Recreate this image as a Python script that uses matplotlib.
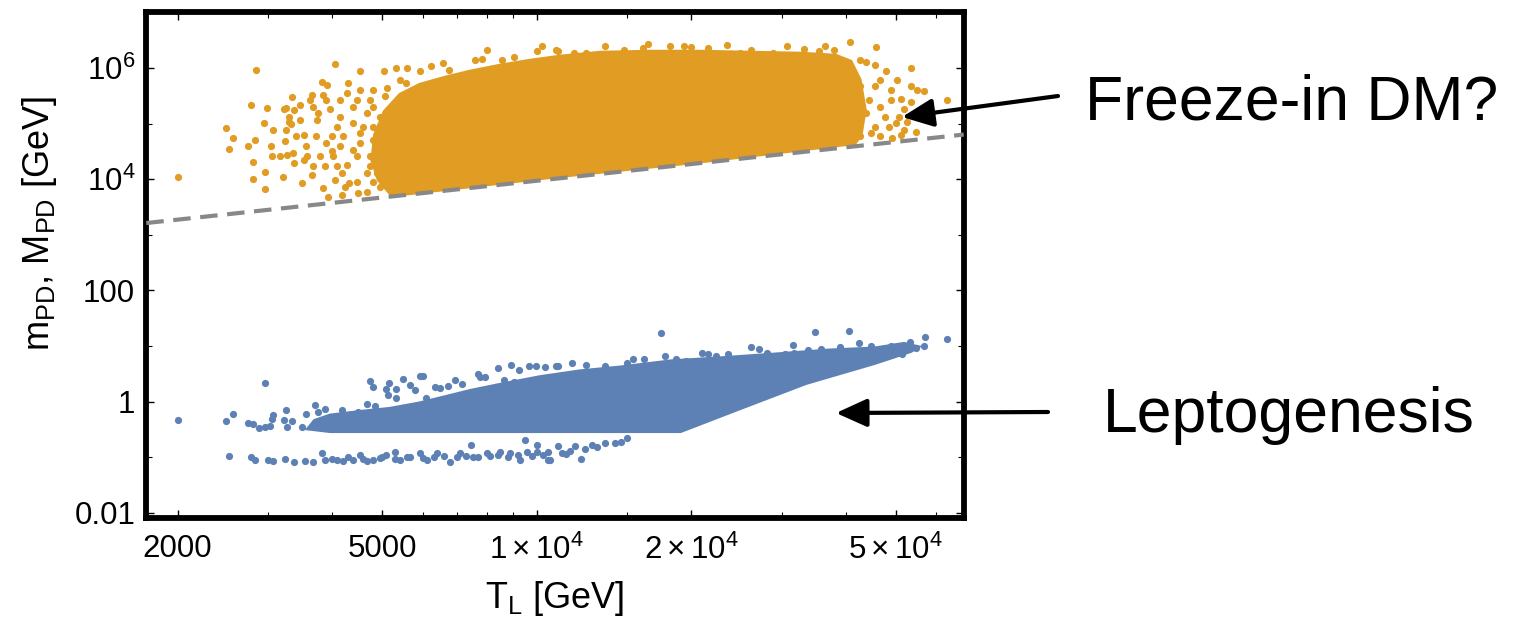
import matplotlib
matplotlib.use("Agg")
import matplotlib.pyplot as plt
from matplotlib.ticker import FixedLocator, FixedFormatter, NullFormatter

plt.rcParams['font.family'] = ['Liberation Sans', 'DejaVu Sans']
plt.rcParams['mathtext.fontset'] = 'custom'
plt.rcParams['mathtext.rm'] = 'Liberation Sans'
plt.rcParams['mathtext.it'] = 'Liberation Sans:italic'

# ---------------- data ----------------
# Freeze-in DM region (orange): dense core outline + scattered points
orange_poly_T = [5230, 4930, 4790, 4850, 5060, 5423, 5932, 6640, 7423, 8493, 9717, 11120,
                 13300, 16650, 20840, 26080, 32630, 38200, 40840, 42500, 43500, 42700, 41600,
                 20800, 10600]
orange_poly_m = [5.2e3, 9.8e3, 2.2e4, 6.3e4, 1.63e5, 3.3e5, 5.0e5, 6.7e5, 8.6e5, 1.1e6, 1.35e6, 1.6e6,
                 1.88e6, 1.96e6, 1.96e6, 1.88e6, 1.81e6, 1.66e6, 1.3e6, 6.2e5, 1.8e5, 6.3e4, 4.5e4,
                 2.1e4, 1.1e4]

orange_T = [2000, 2840, 4050, 4530, 2485, 2560, 2520, 2746, 2783, 2982,
            2947, 2830, 3036, 3063, 2809, 2805, 2960, 2954, 3207, 3250,
            3345, 3365, 3290, 3325, 3250, 3230, 3265, 3355, 3375, 3462,
            3500, 3525, 3555, 3525, 3621, 3650, 3675, 3730, 3720, 3815,
            3835, 3900, 3650, 3835, 3930, 4050, 4175, 3875, 4020, 4143,
            4000, 4085, 3961, 4143, 4300, 4270, 4395, 4520, 4532, 4465,
            4320, 4465, 4670, 4670, 4740, 4810, 5050, 5335, 5600, 5120,
            5235, 4957, 4810, 4740, 4885, 4957, 5235, 5423, 5932, 6225,
            6575, 6760, 7570, 7820, 8010, 8570, 9030, 10000, 10240, 10980,
            5060, 5020, 5185, 5570, 5740, 5570, 5335, 5740,
            3215, 3290, 3400, 3570, 3675, 3788, 3895, 3990, 4080, 4175,
            4270, 4395, 4532, 4600, 4670, 4810, 4740, 4810, 4495, 4235,
            4143, 3895, 3760, 3462, 3165, 3050, 4200, 4395, 4465, 4810,
            4957,
            10930, 11800, 12500, 13600, 14800, 16100, 16500, 18200, 19400, 20000,
            21600, 23500, 24900, 26100, 28900, 30700, 33100, 35500, 36400, 37900,
            40800, 45800,
            42700, 43700, 45500, 53500, 47900, 46700, 50400, 53500, 55000, 56700,
            63000, 48900, 51100, 53500, 51900, 50700, 50000, 52700, 48500, 51900,
            54700, 51100, 49200, 46700, 44700, 45500, 47600, 46700, 48900, 44300,
            42700, 45500, 43700, 42700, 41400]
orange_m = [1.1e4, 9.3e5, 1.18e6, 8.9e5, 8.2e4, 5.5e4, 3.5e4, 3.9e4, 2.2e5, 1.95e5,
            1.02e5, 5.1e4, 3.9e4, 7.7e4, 2.03e4, 1.02e4, 1.36e4, 6.8e3, 1.1e4, 1.9e5,
            3.0e5, 1.77e5, 1.34e5, 9.9e4, 7.7e4, 4.9e4, 2.75e4, 2.95e4, 1.95e4, 2.2e5,
            8.7e3, 6.3e4, 3.9e4, 2.2e4, 2.7e5, 3.3e5, 2.0e5, 1.17e5, 5.9e4, 5.7e5,
            3.3e5, 5.0e5, 1.2e4, 6.9e3, 4.9e3, 9.8e3, 5.2e3, 1.7e4, 2.6e4, 3.9e4,
            5.9e4, 8.9e4, 1.8e5, 2.7e5, 5.4e5, 3.5e5, 2.0e5, 4.1e5, 6.8e4, 2.6e4,
            8.5e3, 9.1e3, 1.29e4, 6.0e3, 2.7e5, 4.1e5, 8.7e5, 1.0e6, 1.0e6, 4.4e5,
            2.0e5, 1.34e5, 5.1e4, 2.6e4, 1.29e4, 7.4e3, 6.5e3, 6.2e5, 8.7e5, 1.07e6,
            1.26e6, 9.1e5, 1.4e6, 1.45e6, 2.1e6, 1.4e6, 1.6e6, 2.07e6, 2.45e6, 2.07e6,
            3.1e5, 6.8e4, 2.2e4, 5.4e5, 3.1e5, 1.29e4, 3.9e4, 7.4e3,
            1.8e5, 1.09e5, 5.9e4, 2.6e4, 1.7e4, 2.6e4, 4.5e4, 3.2e4, 1.7e4, 1.29e4,
            1.8e4, 3.4e4, 4.5e4, 8.9e4, 1.55e5, 2.0e5, 1.7e4, 9.1e3, 5.6e3, 7.4e3,
            1.34e5, 2.7e5, 1.55e5, 1.17e5, 2.6e4, 2.6e4, 5.9e4, 1.02e5, 2.7e5, 8.9e4,
            3.2e4,
            2.1e6, 1.9e6, 1.86e6, 2.45e6, 2.1e6, 2.3e6, 2.7e6, 2.45e6, 2.5e6, 2.4e6,
            2.3e6, 2.6e6, 1.86e6, 2.1e6, 1.86e6, 2.45e6, 2.2e6, 2.0e6, 2.45e6, 2.1e6,
            2.9e6, 2.35e6,
            1.4e6, 1.31e6, 1.15e6, 1.0e6, 8.7e5, 6.2e5, 6.2e5, 4.8e5, 4.1e5, 3.95e5,
            2.7e5, 4.1e5, 2.77e5, 2.5e5, 1.8e5, 1.34e5, 1.02e5, 1.09e5, 8.9e4, 7.7e4,
            7.2e4, 6.3e4, 5.5e4, 5.9e4, 6.8e4, 8.9e4, 1.34e5, 2.0e5, 2.7e5, 2.7e5,
            4.7e5, 4.7e5, 1.55e5, 5.9e4, 8.9e4]

# Leptogenesis region (blue): dense band outline + scattered points
blue_poly_T = [3700, 3961, 4532, 5185, 5932, 6640, 7423, 8493, 10160, 12160, 14550, 18300, 22800,
               29000, 37300, 45500, 51900, 55000, 53500, 45500, 33400, 24900, 19050, 3961, 3600]
blue_poly_m = [0.45, 0.56, 0.65, 0.74, 0.93, 1.2, 1.55, 2.0, 2.75, 3.5, 4.1, 5.3, 6.0,
               7.0, 8.3, 9.0, 10.9, 9.6, 8.2, 5.0, 2.17, 0.77, 0.297, 0.297, 0.33]

blue_T = [2000, 2480, 2560, 2746, 2810, 2881, 2965, 2960, 3026, 3063,
          3058, 3250, 3215, 3265, 3340, 3555, 3500, 3700, 3760, 3875,
          4175, 4333, 4495, 4670, 4740, 4810, 4850, 5100, 5160, 5140,
          5315, 5315, 5500, 5670, 5800, 5932, 6020, 6095, 6345, 6489,
          6725, 6940, 6995, 7160, 7680, 7740, 8415, 8915, 9220, 9660,
          9950, 10400, 10900, 7940, 8630, 9030, 11000, 11700, 12500, 13600,
          15000, 15400, 16200, 17500, 17800, 18700, 19500, 21000, 21600, 22300,
          23600, 26100, 27100, 28100, 30500, 31600, 31700, 33700, 34800, 35700,
          39000, 40600, 42400, 44700, 48900, 49600, 51500, 53300, 54700, 56700,
          57100, 63000]
blue_m = [0.47, 0.45, 0.59, 0.42, 0.40, 0.34, 2.14, 0.355, 0.37, 0.58,
          0.48, 0.71, 0.47, 0.355, 0.44, 0.59, 0.355, 0.87, 0.66, 0.74,
          0.71, 0.58, 0.66, 0.91, 2.39, 1.82, 0.84, 1.67, 2.2, 1.32,
          1.67, 1.15, 2.6, 2.0, 1.62, 2.9, 2.9, 1.15, 1.86, 1.74,
          1.92, 2.46, 1.23, 2.08, 3.15, 2.75, 4.0, 4.5, 3.7, 4.3,
          4.4, 4.2, 4.4, 2.8, 2.46, 2.29, 4.4, 4.9, 4.6, 4.4,
          4.9, 5.9, 5.9, 17.5, 6.6, 5.9, 5.5, 7.6, 7.2, 6.5,
          7.2, 9.8, 8.9, 7.6, 7.2, 10.5, 7.6, 8.5, 18.2, 8.9,
          9.8, 18.7, 11.5, 10.0, 10.0, 8.8, 7.2, 12.0, 9.1, 10.0,
          14.8, 13.6]

# lower thin branch of the blue points
blue_low_T = [2518, 2785, 2830, 3000, 3070, 3230, 3365, 3540, 3675, 3820,
              3875, 4080, 4200, 4390, 4532, 4670, 4810, 4957, 5100, 5290,
              5423, 5670, 5932, 6110, 6390, 6786, 7098, 7450, 7530, 7990,
              8493, 8880, 9290, 9500, 9580, 10000, 10000, 10500, 11000, 10500,
              10600, 11400, 11900, 12200, 12800, 13600, 14200, 14600, 15000,
              4000, 4300, 4600, 5000, 5300, 5600, 6000, 6300, 6600, 7000,
              7300, 7700, 8100, 8400, 8800, 9200, 9800, 10300, 11200, 11600,
              12400, 13100]
blue_low_m = [0.107, 0.102, 0.089, 0.089, 0.086, 0.093, 0.083, 0.086, 0.083, 0.118,
              0.089, 0.089, 0.087, 0.089, 0.110, 0.086, 0.089, 0.096, 0.110, 0.126,
              0.089, 0.102, 0.118, 0.089, 0.118, 0.083, 0.118, 0.166, 0.102, 0.118,
              0.126, 0.118, 0.089, 0.205, 0.126, 0.166, 0.126, 0.089, 0.161, 0.126,
              0.089, 0.115, 0.161, 0.092, 0.166, 0.178, 0.178, 0.19, 0.22,
              0.095, 0.1, 0.095, 0.1, 0.095, 0.1, 0.098, 0.1, 0.105, 0.1,
              0.105, 0.1, 0.105, 0.11, 0.1, 0.11, 0.105, 0.11, 0.12, 0.13,
              0.14, 0.15]

# dashed boundary line
bound_T = [1738, 67830]
bound_m = [1634, 63760]

x_ticks = [2000, 5000, 1e4, 2e4, 5e4]
x_labels = ["2000", "5000", r"$1\times10^{4}$", r"$2\times10^{4}$", r"$5\times10^{4}$"]
x_minor = [3000, 4000, 6000, 7000, 8000, 9000, 1.5e4, 3e4, 4e4, 6e4]
y_ticks = [0.01, 1, 100, 1e4, 1e6]
y_labels = ["0.01", "1", "100", r"$10^{4}$", r"$10^{6}$"]
y_minor = [0.1, 10, 1000, 1e5]

ORANGE = (0.880722, 0.611041, 0.142051)
BLUE = (0.368417, 0.506779, 0.709798)

assert len(orange_T) == len(orange_m)
assert len(blue_T) == len(blue_m)
assert len(blue_low_T) == len(blue_low_m)
assert len(orange_poly_T) == len(orange_poly_m)
assert len(blue_poly_T) == len(blue_poly_m)

# ---------------- figure ----------------
fig = plt.figure(figsize=(15.22, 6.23), dpi=100)
ax = fig.add_axes([0.09613, 0.16886, 0.53706, 0.81108])
ax.set_xscale('log')
ax.set_yscale('log')
ax.set_xlim(1738, 67830)
ax.set_ylim(0.00815, 1.0e7)

DOT = 27
ax.fill(orange_poly_T, orange_poly_m, color=ORANGE, lw=3, zorder=2)
ax.scatter(orange_T, orange_m, s=DOT, color=ORANGE, linewidths=0, zorder=2)
ax.fill(blue_poly_T, blue_poly_m, color=BLUE, lw=3, zorder=2)
ax.scatter(blue_T, blue_m, s=DOT, color=BLUE, linewidths=0, zorder=2)
ax.scatter(blue_low_T, blue_low_m, s=DOT, color=BLUE, linewidths=0, zorder=2)
ax.plot(bound_T, bound_m, color='#888888', lw=3.0, dashes=(4.2, 2.3), zorder=3)

ax.xaxis.set_major_locator(FixedLocator(x_ticks))
ax.xaxis.set_major_formatter(FixedFormatter(x_labels))
ax.xaxis.set_minor_locator(FixedLocator(x_minor))
ax.xaxis.set_minor_formatter(NullFormatter())
ax.yaxis.set_major_locator(FixedLocator(y_ticks))
ax.yaxis.set_major_formatter(FixedFormatter(y_labels))
ax.yaxis.set_minor_locator(FixedLocator(y_minor))
ax.yaxis.set_minor_formatter(NullFormatter())

ax.tick_params(which='both', direction='in', top=True, right=True, color='black')
ax.tick_params(which='major', length=6, width=1.0, labelsize=22.5)
ax.tick_params(which='minor', length=4, width=0.8)
ax.tick_params(axis='x', which='major', pad=12)
ax.tick_params(axis='y', which='major', pad=8)
for sp in ax.spines.values():
    sp.set_linewidth(4.2)
    sp.set_color('black')

fig.text(555 / 1522, 1 - 608 / 623, r"T$_\mathrm{L}$ [GeV]", fontsize=26,
         ha='center', va='baseline')
fig.text(40 / 1522, 1 - 223 / 623, r"m$_\mathrm{PD}$, M$_\mathrm{PD}$ [GeV]", fontsize=26,
         ha='center', va='center', rotation=90)

fig.text(1085 / 1522, 1 - 120 / 623, "Freeze-in DM?", fontsize=45, ha='left', va='baseline')
fig.text(1103 / 1522, 1 - 432 / 623, "Leptogenesis", fontsize=45, ha='left', va='baseline')

arrow_kw = dict(arrowstyle='-|>,head_length=19,head_width=8.6', mutation_scale=1,
                lw=3.0, color='black', shrinkA=0, shrinkB=0)
fig.add_artist(matplotlib.patches.FancyArrowPatch(
    (1058 / 1522, 1 - 96 / 623), (902 / 1522, 1 - 117 / 623),
    transform=fig.transFigure, **arrow_kw))
fig.add_artist(matplotlib.patches.FancyArrowPatch(
    (1048 / 1522, 1 - 412 / 623), (836 / 1522, 1 - 413 / 623),
    transform=fig.transFigure, **arrow_kw))

fig.savefig("out.png", dpi=100)
